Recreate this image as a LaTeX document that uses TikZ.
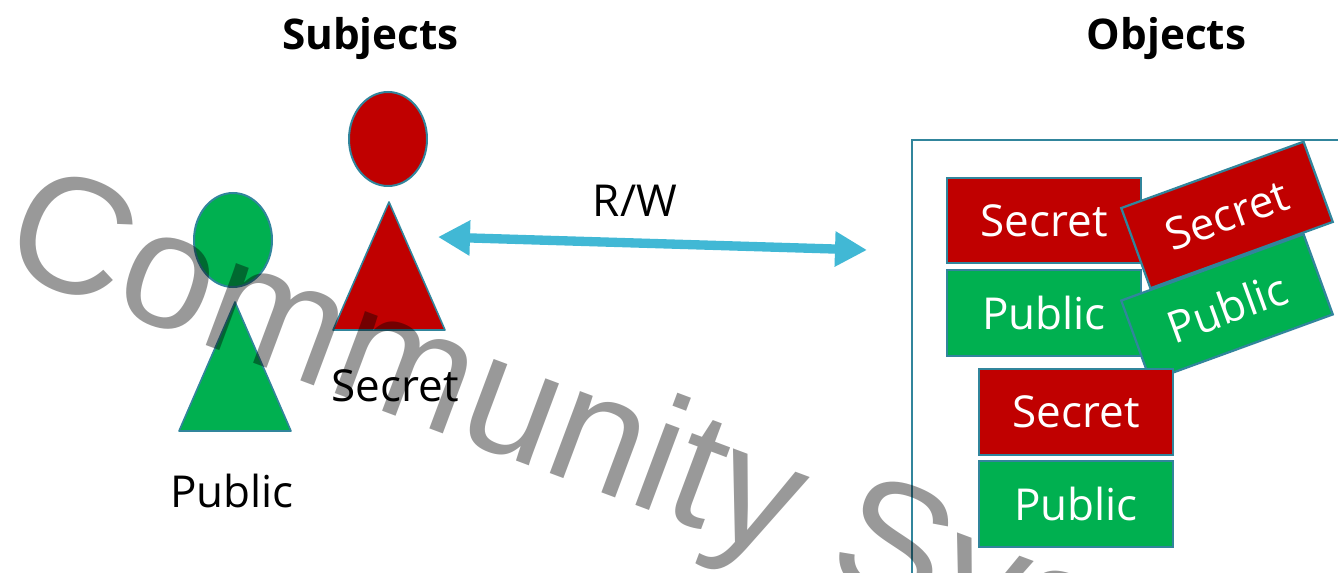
\documentclass[tikz,border=0pt]{standalone}
\usepackage{fontspec}
\setmainfont{Open Sans}
\newfontfamily\wmfont{Liberation Sans}
\usetikzlibrary{shapes.geometric,arrows.meta}
\definecolor{edgeteal}{HTML}{31859C}
\definecolor{redfill}{HTML}{C00000}
\definecolor{greenfill}{HTML}{00B050}
\definecolor{arrowblue}{HTML}{41B8D5}
\tikzset{
  box/.style={draw=edgeteal,line width=1.7pt,rectangle,minimum width=145.5pt,minimum height=64pt,inner sep=0pt,text=white,font=\fontsize{33}{38}\selectfont},
  redbox/.style={box,fill=redfill},
  greenbox/.style={box,fill=greenfill},
  head/.style={draw=edgeteal,line width=1.5pt,ellipse,minimum width=58.5pt,minimum height=70.5pt,inner sep=0pt},
  tri/.style={draw=edgeteal,line width=1.2pt,line join=round},
  label/.style={inner sep=0pt,text=black,font=\fontsize{33}{38}\selectfont},
  title/.style={inner sep=0pt,text=black,font=\fontsize{31.7}{37}\selectfont\bfseries},
  wm/.style={inner sep=0pt,anchor=base west,text=black,opacity=0.4,rotate=-20.5,font=\wmfont\fontsize{124}{140}\selectfont}
}
\begin{document}
\begin{tikzpicture}[x=0.75pt,y=-0.75pt]
\useasboundingbox (0,0) rectangle (1338,573);
\begin{scope}
\clip (0,0) rectangle (1338,573);
\fill[white] (0,0) rectangle (1338,573);
\node[title] (subj) at (370.5,39) {Subjects};
\node[title] (obj) at (1166.5,39) {Objects};
% subjects
\node[head,fill=redfill] (redhead) at (388,139) {};
\draw[tri,fill=redfill] (389,202) -- (445,330) -- (333,330) -- cycle;
\node[head,fill=greenfill] (greenhead) at (233,240) {};
\draw[tri,fill=greenfill] (235,302) -- (291,431) -- (179,431) -- cycle;
\node[label] (secretlabel) at (395,386) {Secret};
\node[label] (publiclabel) at (232,491) {Public};
% arrow
\coordinate (arrowleft) at (438,237);
\coordinate (arrowright) at (867,250);
\draw[arrowblue,line width=7pt,{Triangle[length=24pt,width=25pt]}-{Triangle[length=24pt,width=25pt]}] (arrowleft) -- (arrowright);
\node[label] (rw) at (635,201) {R/W};
% objects
\draw[edgeteal,line width=1.5pt] (1345,140) -- (912,140) -- (912,580);
\node[redbox] (s1) at (1044,220.5) {Secret};
\node[greenbox] (p1) at (1044,313) {Public};
\node[greenbox,rotate=20] (p2) at (1227,307.5) {Public};
\node[redbox,rotate=20] (s2) at (1227,215) {Secret};
\node[redbox] (s3) at (1076,412) {Secret};
\node[greenbox] (p3) at (1076,504) {Public};
% watermark
\node[wm] (mark) at (-3,267) {Community Systems};
\end{scope}
\end{tikzpicture}
\end{document}
